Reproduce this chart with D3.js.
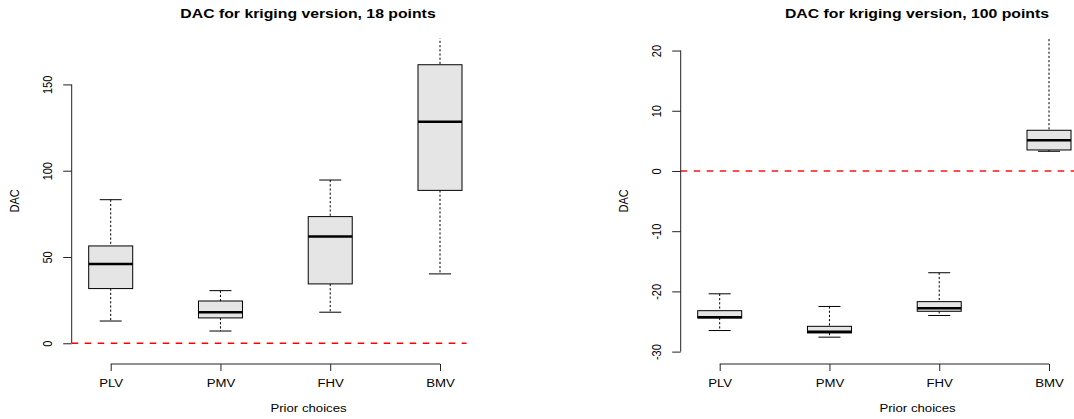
<!DOCTYPE html>
<html>
<head>
<meta charset="utf-8">
<script src="https://cdn.jsdelivr.net/npm/d3@7"></script>
<style>
	body { margin: 0; background: #fff; }
	svg text { font-family: "Liberation Sans", Arial, sans-serif; fill: #000; }
</style>
</head>
<body>
<div id="chart"></div>
<script>
// categories (shared by both panels)
const categories = ['PLV', 'PMV', 'FHV', 'BMV']

// 18 points: whisker ends, quartiles, medians
const lowWhisker18 = [12.9, 7.1, 18.0, 40.2]
const q1_18 = [31.7, 14.7, 34.4, 88.6]
const median18 = [45.9, 18.0, 61.8, 128.4]
const q3_18 = [56.4, 24.5, 73.4, 161.4]
const highWhisker18 = [83.2, 30.5, 94.6, 185]
const yTicks18 = [0, 50, 100, 150]
const yLim18 = [-11.6, 176.6]

// 100 points
const lowWhisker100 = [-26.5, -27.6, -24.0, 3.27]
const q1_100 = [-24.4, -26.9, -23.3, 3.49]
const median100 = [-24.3, -26.7, -22.8, 5.1]
const q3_100 = [-23.2, -25.8, -21.7, 6.76]
const highWhisker100 = [-20.4, -22.5, -16.9, 24]
const yTicks100 = [-30, -20, -10, 0, 10, 20]
const yLim100 = [-31.94, 22.0]

const refValue = 0

/**
 * Constants
 */
const width = 1074, height = 419
const sx = 1.2 // the reference picture is stretched horizontally
const plot = { left: 71.7, right: 466.7, top: 38.5, bottom: 363.3 }
const catRange = [110.7, 440]
const boxHalf = 22

const svg = d3.select('#chart').append('svg')
	.attr('width', width)
	.attr('height', height)

function drawPanel(id, ox, title, lo, q1, med, q3, hi, ticks, ylim, refStyle) {
	const rows = categories.map((c, i) => ({ cat: c, lo: lo[i], q1: q1[i], med: med[i], q3: q3[i], hi: hi[i] }))

	const g = svg.append('g').attr('transform', `translate(${ox},0)`)

	const x = d3.scalePoint().domain(categories).range(catRange)
	const y = d3.scaleLinear().domain(ylim).range([plot.bottom, plot.top])

	g.append('clipPath').attr('id', 'clip' + id)
		.append('rect')
		.attr('x', plot.left).attr('y', plot.top)
		.attr('width', plot.right - plot.left).attr('height', plot.bottom - plot.top)

	const body = g.append('g').attr('clip-path', `url(#clip${id})`)

	// reference line
	body.append('line')
		.attr('x1', plot.left).attr('x2', plot.right)
		.attr('y1', y(refValue)).attr('y2', y(refValue))
		.attr('stroke', refStyle.color)
		.attr('stroke-width', refStyle.width)
		.attr('stroke-dasharray', '6.5,6.5')

	const box = body.selectAll('.box').data(rows).enter().append('g').attr('class', 'box')

	// whiskers
	box.append('line')
		.attr('x1', d => x(d.cat)).attr('x2', d => x(d.cat))
		.attr('y1', d => y(d.hi)).attr('y2', d => y(d.q3))
		.attr('stroke', '#000').attr('stroke-dasharray', '2.2,2')
	box.append('line')
		.attr('x1', d => x(d.cat)).attr('x2', d => x(d.cat))
		.attr('y1', d => y(d.q1)).attr('y2', d => y(d.lo))
		.attr('stroke', '#000').attr('stroke-dasharray', '2.2,2')

	// caps
	box.append('line')
		.attr('x1', d => x(d.cat) - boxHalf / 2).attr('x2', d => x(d.cat) + boxHalf / 2)
		.attr('y1', d => y(d.hi)).attr('y2', d => y(d.hi))
		.attr('stroke', '#000')
	box.append('line')
		.attr('x1', d => x(d.cat) - boxHalf / 2).attr('x2', d => x(d.cat) + boxHalf / 2)
		.attr('y1', d => y(d.lo)).attr('y2', d => y(d.lo))
		.attr('stroke', '#000')

	// boxes
	box.append('rect')
		.attr('x', d => x(d.cat) - boxHalf)
		.attr('y', d => y(d.q3))
		.attr('width', boxHalf * 2)
		.attr('height', d => y(d.q1) - y(d.q3))
		.attr('fill', '#e5e5e5')
		.attr('stroke', '#000')
		.attr('stroke-width', 1)

	// medians
	box.append('line')
		.attr('x1', d => x(d.cat) - boxHalf).attr('x2', d => x(d.cat) + boxHalf)
		.attr('y1', d => y(d.med)).attr('y2', d => y(d.med))
		.attr('stroke', '#000').attr('stroke-width', 2.5)

	// y axis
	const yAxis = g.append('g')
		.attr('transform', `translate(${plot.left},0)`)
		.call(d3.axisLeft(y).tickValues(ticks).tickSize(8.5))
	yAxis.select('.domain').remove()
	yAxis.append('line')
		.attr('y1', y(ticks[0])).attr('y2', y(ticks[ticks.length - 1]))
		.attr('stroke', '#222')
	yAxis.selectAll('.tick line').attr('stroke', '#222')
	yAxis.selectAll('text')
		.attr('x', null).attr('dy', null)
		.attr('text-anchor', 'middle')
		.attr('font-size', 11)
		.attr('transform', `translate(${-24.4 + 0.358 * 11 * sx},0) scale(${sx},1) rotate(-90)`)
		.text(d => String(d))

	// x axis
	const xAxis = g.append('g')
		.attr('transform', `translate(0,${plot.bottom + 0.7})`)
		.call(d3.axisBottom(x).tickSize(7))
	xAxis.select('.domain').remove()
	xAxis.append('line')
		.attr('x1', catRange[0]).attr('x2', catRange[1])
		.attr('stroke', '#222')
	xAxis.selectAll('.tick line').attr('stroke', '#222')
	xAxis.selectAll('text')
		.attr('y', 23).attr('dy', null)
		.attr('font-size', 11)
		.attr('transform', `scale(${sx},1)`)

	// labels
	g.append('text')
		.attr('text-anchor', 'middle')
		.attr('font-size', 11)
		.attr('transform', `translate(${plot.left - 57.7 + 0.358 * 11 * sx},${(plot.top + plot.bottom) / 2}) scale(${sx},1) rotate(-90)`)
		.text('DAC')

	g.append('text')
		.attr('text-anchor', 'middle')
		.attr('font-size', 11)
		.attr('transform', `translate(308.5,412.2) scale(${sx},1)`)
		.text('Prior choices')

	g.append('text')
		.attr('text-anchor', 'middle')
		.attr('font-size', 13.5)
		.attr('font-weight', 'bold')
		.attr('transform', `translate(308,17.8) scale(1.17,1)`)
		.text(title)
}

drawPanel('a', 0, 'DAC for kriging version, 18 points',
	lowWhisker18, q1_18, median18, q3_18, highWhisker18, yTicks18, yLim18,
	{ color: '#ff0000', width: 1.6 })

drawPanel('b', 609, 'DAC for kriging version, 100 points',
	lowWhisker100, q1_100, median100, q3_100, highWhisker100, yTicks100, yLim100,
	{ color: '#ff4d4d', width: 2 })
</script>
</body>
</html>
